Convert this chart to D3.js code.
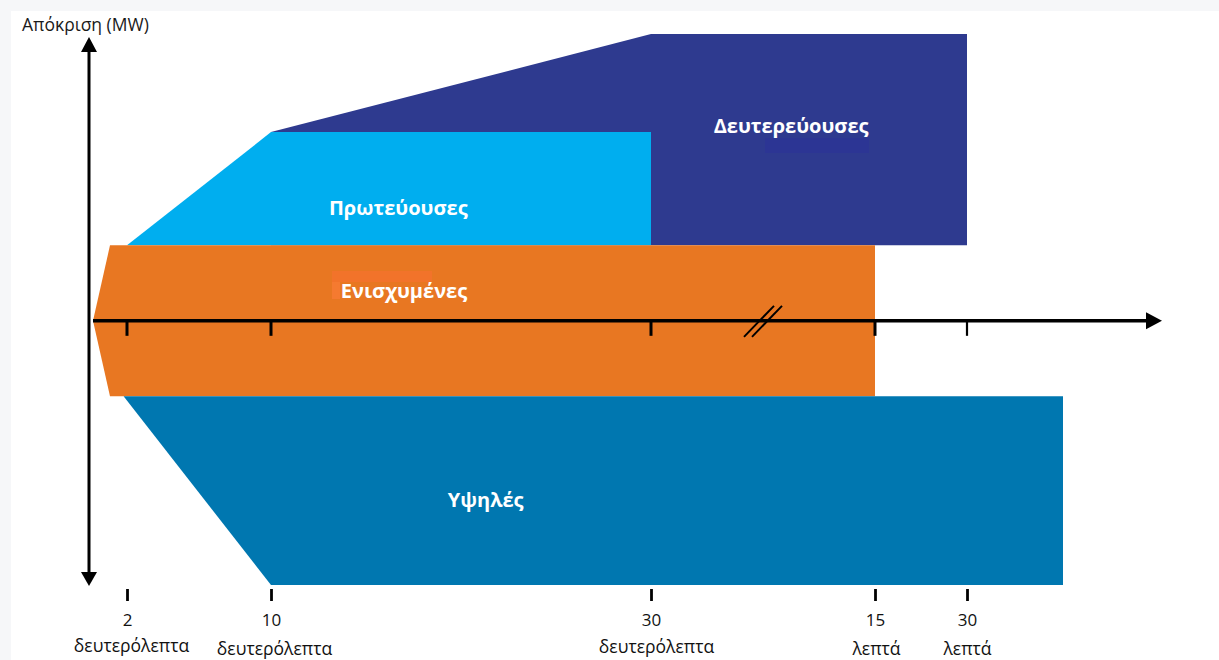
<!DOCTYPE html>
<html>
<head>
<meta charset="utf-8">
<script src="https://cdn.jsdelivr.net/npm/d3@7/dist/d3.min.js"></script>
<style>
  html, body { margin: 0; padding: 0; background: #f6f7f9; }
  svg { display: block; }
  text { font-family: "Open Sans", "Noto Sans", sans-serif; }
</style>
</head>
<body>
<svg id="chart" width="1219" height="660"></svg>
<script>
// ---- data ----
// time points in seconds (x) and response level (y, arbitrary MW units; 0 = time axis)
const services = ["Δευτερεύουσες", "Πρωτεύουσες", "Ενισχυμένες", "Υψηλές"];
const serviceColors = ["#2E3A8F", "#00AEEF", "#E87722", "#0077B0"];
const secondaryShape = [[10, 2.5], [30, 3.8], [1800, 3.8], [1800, 1], [10, 1]];
const primaryShape = [[2, 1], [10, 2.5], [30, 2.5], [30, 1]];
const enhancedShape = [[0, 0], [1, 1], [900, 1], [900, -1], [1, -1]];
const dynamicShape = [[1.8, -1], [2700, -1], [2700, -3.5], [10, -3.5]];
const labelPos = [[574, 2.49], [16.7, 1.40], [17.0, 0.30], [21.3, -2.46]];
const tickValues = [2, 10, 30, 900, 1800];
const tickNumbers = ["2", "10", "30", "15", "30"];
const tickUnits = ["δευτερόλεπτα", "δευτερόλεπτα", "δευτερόλεπτα", "λεπτά", "λεπτά"];
const yTitle = "Απόκριση (MW)";

// ---- scales ----
const x = d3.scaleLinear()
  .domain([0, 2, 10, 30, 900, 1800, 2700])
  .range([93, 127, 271, 651, 875, 967, 1063]);
const y = d3.scaleLinear().domain([-3.5, 3.8]).range([585, 34]);

const svg = d3.select("#chart");
svg.append("rect").attr("x", 11).attr("y", 11).attr("width", 1208).attr("height", 649).attr("fill", "#ffffff");

const line = d3.line().x(d => x(d[0])).y(d => y(d[1])).curve(d3.curveLinearClosed);
const shapes = [secondaryShape, primaryShape, enhancedShape, dynamicShape];
shapes.forEach((s, i) => {
  svg.append("path").attr("d", line(s)).attr("fill", serviceColors[i]);
});

// small artefacts present in the source picture
svg.append("rect").attr("x", 765).attr("y", 138).attr("width", 104).attr("height", 15).attr("fill", "#2C3594");
svg.append("rect").attr("x", 332).attr("y", 271).attr("width", 100).attr("height", 11).attr("fill", "#F2732A");
svg.append("rect").attr("x", 332).attr("y", 282).attr("width", 8).attr("height", 17).attr("fill", "#F57A30");

// service labels
services.forEach((name, i) => {
  svg.append("text")
    .attr("x", x(labelPos[i][0]))
    .attr("y", y(labelPos[i][1]))
    .attr("text-anchor", "middle")
    .attr("fill", "#ffffff")
    .attr("font-weight", "bold")
    .attr("font-size", 20)
    .text(name);
});

// ---- axes ----
const y0 = y(0);
const axisX = 89;
// horizontal time axis
svg.append("line").attr("x1", x(0)).attr("x2", 1148).attr("y1", y0).attr("y2", y0)
  .attr("stroke", "#000").attr("stroke-width", 3.5);
svg.append("path").attr("d", `M1146,${y0 - 8.5}L1162,${y0}L1146,${y0 + 8.5}Z`).attr("fill", "#000");
// ticks below axis
tickValues.forEach((t, i) => {
  svg.append("line").attr("x1", x(t)).attr("x2", x(t)).attr("y1", y0).attr("y2", y0 + 15)
    .attr("stroke", "#000").attr("stroke-width", i === 4 ? 2.2 : 3);
});
// axis break marks
[[744, 774], [752, 782]].forEach(p => {
  svg.append("line").attr("x1", p[0]).attr("y1", y0 + 16).attr("x2", p[1]).attr("y2", y0 - 15)
    .attr("stroke", "#000").attr("stroke-width", 2);
});

// vertical response axis (double arrow)
svg.append("line").attr("x1", axisX).attr("x2", axisX).attr("y1", 50).attr("y2", 574)
  .attr("stroke", "#000").attr("stroke-width", 3);
svg.append("path").attr("d", `M${axisX - 8},52L${axisX},37L${axisX + 8},52Z`).attr("fill", "#000");
svg.append("path").attr("d", `M${axisX - 8},572L${axisX},586L${axisX + 8},572Z`).attr("fill", "#000");
svg.append("text").attr("x", 22).attr("y", 31).attr("font-size", 17.5).attr("fill", "#1a1a1a").text(yTitle);

// bottom time labels
const bottomAxis = d3.axisBottom(x).tickValues(tickValues).tickSize(12)
  .tickFormat((d, i) => tickNumbers[i]);
const gb = svg.append("g").attr("transform", "translate(0,589)").call(bottomAxis);
gb.select(".domain").remove();
gb.selectAll(".tick line").attr("stroke", "#000").attr("stroke-width", 2.8);
gb.selectAll(".tick text").attr("font-size", 17).attr("fill", "#111").attr("y", 37).attr("dy", 0)
  .attr("font-family", "'Open Sans', sans-serif");
gb.selectAll(".tick").append("text")
  .attr("y", (d, i) => [63, 66, 64, 66, 66][i])
  .attr("x", (d, i) => [4, 3, 5, 1, 0][i])
  .attr("fill", "#111").attr("font-size", 17.5).attr("text-anchor", "middle")
  .attr("font-family", "'Open Sans', sans-serif")
  .text((d, i) => tickUnits[i]);
</script>
</body>
</html>
